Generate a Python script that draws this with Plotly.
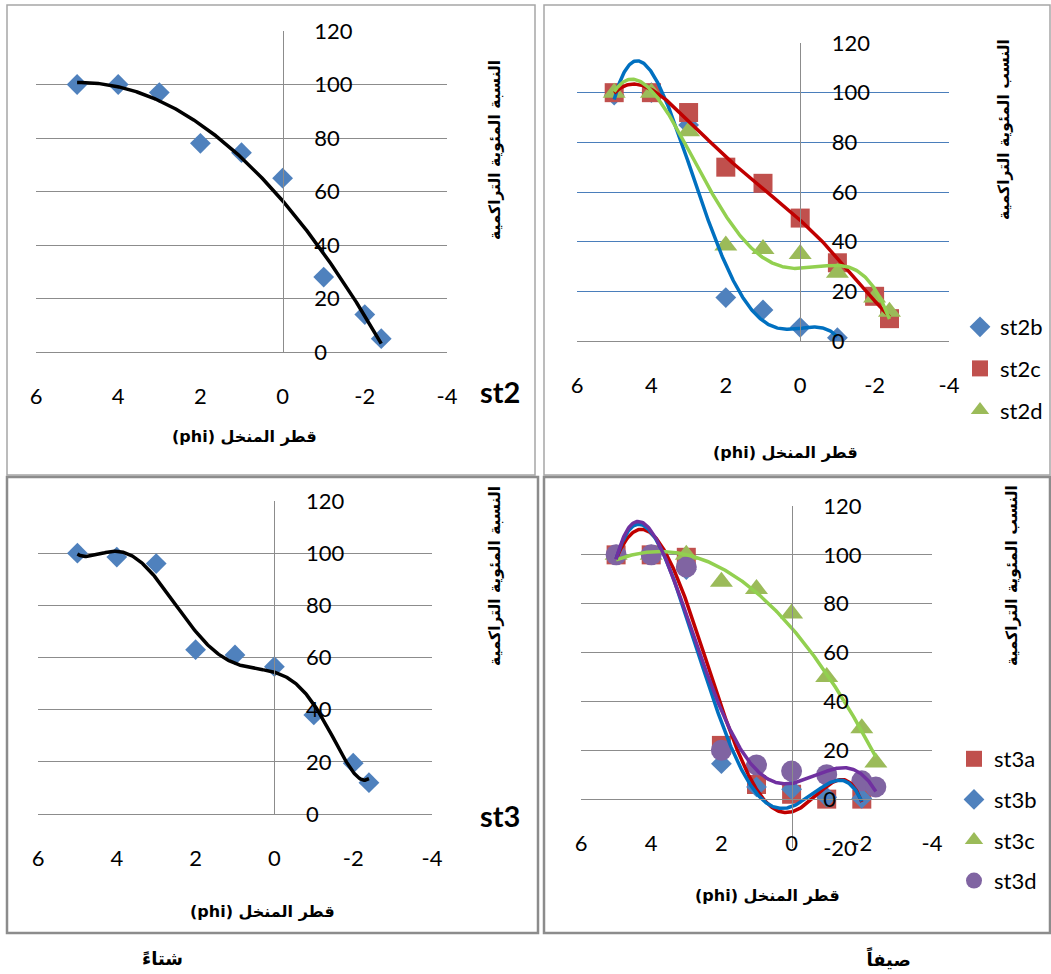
import numpy as np
import plotly.graph_objects as go

W, H = 1051, 974

# sieve diameter in phi units
phi = [5, 4, 3, 2, 1, 0, -1, -2, -2.4]

# cumulative percentage, station 2 (winter)
st2 = [100, 100, 97, 78, 74.5, 65, 28, 14, 5]
# cumulative percentage, station 2 samples (summer)
st2b = [99, 100, 87, 17.5, 12.5, 5.5, 1.3]
st2c = [100, 100, 92, 70, 63.5, 49.5, 31.5, 18, 9]
st2d = [100, 100, 84.5, 38.5, 37, 35, 27.5, 17.5, 11.8]

# cumulative percentage, station 3 (winter)
st3 = [100, 98.5, 96, 63, 61, 56.5, 38, 19.5, 12]
# cumulative percentage, station 3 samples (summer)
st3a = [100, 100, 99, 22, 6, 2, 0, 0]
st3b = [100, 100, 94, 14.5, 5, 4, 0.8, 0.3]
st3c = [100, 100, 100, 89, 86, 76, 50, 29, 15]
st3d = [100, 100, 95, 20, 14, 11.5, 10, 7.5, 5]

x_ticks = [6, 4, 2, 0, -2, -4]
x_tick_text = ["6", "4", "2", "0", "-2", "-4"]
y_ticks = [0, 20, 40, 60, 80, 100, 120]
y_tick_text = ["0", "20", "40", "60", "80", "100", "120"]
y_ticks_neg = [-20, 0, 20, 40, 60, 80, 100, 120]
y_tick_text_neg = ["-20", "0", "20", "40", "60", "80", "100", "120"]

# polynomial trendline orders
ORD = dict(st2=2, st3=6, st2b=4, st2c=6, st2d=4, st3a=5, st3b=5, st3c=2, st3d=5)

BLUE_M, RED_M, GREEN_M, PURPLE_M = "#4F81BD", "#C0504D", "#9BBB59", "#8064A2"
BLUE_L, RED_L, GREEN_L, PURPLE_L = "#0070C0", "#C00000", "#92D050", "#7030A0"
GRID = "#8C8C8C"
GRID_BLUE = "#4A7EBB"
NUM_FONT = "Lato"
AR_FONT = "DejaVu Sans"
NUM_SIZE = 22


def px(x):
    return x / W


def py(y):
    return 1 - y / H


# plot areas in pixels: left, right, top(120), bottom(ymin), ymin
AREAS = {
    1: (36, 447, 31, 352, 0),
    2: (577, 949, 43, 341, 0),
    3: (38, 432, 501, 814, 0),
    4: (581, 932, 506, 848, -20),
}

fig = go.Figure()


def trend(x, y, order):
    c = np.polyfit(x, y, order)
    xs = np.linspace(min(x), max(x), 300)
    return xs, np.polyval(c, xs)


def add_points(k, name, y, symbol, color, size, legend=None):
    x = phi[: len(y)]
    fig.add_trace(go.Scatter(
        x=x, y=y, mode="markers", name=name,
        marker=dict(symbol=symbol, color=color, size=size, line=dict(width=0)),
        xaxis=f"x{k}", yaxis=f"y{k}",
        showlegend=legend is not None, legend=legend or "legend",
        legendgroup=name,
    ))


def add_trend(k, name, y, color, width=3.5):
    x = phi[: len(y)]
    xs, ys = trend(x, y, ORD[name])
    fig.add_trace(go.Scatter(
        x=xs, y=ys, mode="lines", line=dict(color=color, width=width),
        xaxis=f"x{k}", yaxis=f"y{k}", showlegend=False, hoverinfo="skip",
    ))


# panel 1: st2
add_points(1, "st2", st2, "diamond", BLUE_M, 16)
add_trend(1, "st2", st2, "#000000")

# panel 2: st2b, st2c, st2d
add_points(2, "st2b", st2b, "diamond", BLUE_M, 16, "legend")
add_points(2, "st2c", st2c, "square", RED_M, 19, "legend")
add_points(2, "st2d", st2d, "triangle-up", GREEN_M, 20, "legend")
add_trend(2, "st2b", st2b, BLUE_L)
add_trend(2, "st2c", st2c, RED_L)
add_trend(2, "st2d", st2d, GREEN_L)

# panel 3: st3
add_points(3, "st3", st3, "diamond", BLUE_M, 16)
add_trend(3, "st3", st3, "#000000")

# panel 4: st3a, st3b, st3c, st3d
add_points(4, "st3a", st3a, "square", RED_M, 19, "legend2")
add_points(4, "st3b", st3b, "diamond", BLUE_M, 16, "legend2")
add_points(4, "st3c", st3c, "triangle-up", GREEN_M, 20, "legend2")
add_points(4, "st3d", st3d, "circle", PURPLE_M, 21, "legend2")
add_trend(4, "st3a", st3a, RED_L)
add_trend(4, "st3b", st3b, BLUE_L)
add_trend(4, "st3c", st3c, GREEN_L)
add_trend(4, "st3d", st3d, PURPLE_L)

layout = dict(
    width=W, height=H,
    margin=dict(l=0, r=0, t=0, b=0, autoexpand=False),
    paper_bgcolor="white", plot_bgcolor="rgba(0,0,0,0)",
    font=dict(family=NUM_FONT, size=NUM_SIZE, color="#000000"),
)

for k, (x0, x1, yt, yb, ymin) in AREAS.items():
    zero_x = x0 + 0.6 * (x1 - x0)
    zero_y = yt + 120 / (120 - ymin) * (yb - yt)
    gcol = GRID_BLUE if k == 2 else GRID
    sfx = "" if k == 1 else str(k)
    layout[f"xaxis{sfx}"] = dict(
        domain=[px(x0), px(x1)], range=[6, -4],
        tickvals=x_ticks, ticktext=x_tick_text,
        anchor="free", position=py(zero_y), automargin=False,
        showgrid=False, zeroline=False, showline=True, linecolor=GRID, linewidth=1.3,
        ticks="", ticklabelstandoff=24,
        tickfont=dict(family=NUM_FONT, size=NUM_SIZE),
    )
    layout[f"yaxis{sfx}"] = dict(
        domain=[py(yb), py(yt)], range=[ymin, 120],
        tickvals=y_ticks_neg if ymin < 0 else y_ticks,
        ticktext=y_tick_text_neg if ymin < 0 else y_tick_text,
        anchor="free", position=px(zero_x), side="right", automargin=False,
        showgrid=True, gridcolor=gcol, gridwidth=1.3,
        zeroline=False, showline=True, linecolor=GRID, linewidth=1.3,
        ticks="", ticklabelstandoff=26,
        tickfont=dict(family=NUM_FONT, size=NUM_SIZE),
    )

layout["legend"] = dict(
    x=px(960), y=py(306), xanchor="left", yanchor="top",
    bgcolor="rgba(0,0,0,0)", tracegroupgap=10,
    font=dict(family=NUM_FONT, size=NUM_SIZE),
)
layout["legend2"] = dict(
    x=px(954), y=py(738), xanchor="left", yanchor="top",
    bgcolor="rgba(0,0,0,0)", tracegroupgap=9,
    font=dict(family=NUM_FONT, size=NUM_SIZE),
)

# panel frames
frames = [
    (7, 5, 535, 475, 1.5, "#A6A6A6"),
    (544, 5, 1050, 475, 1.5, "#A6A6A6"),
    (7, 477, 538, 933, 2.5, "#8C8C8C"),
    (544, 477, 1050, 933, 2.5, "#8C8C8C"),
]
layout["shapes"] = [
    dict(type="rect", xref="paper", yref="paper",
         x0=px(a), x1=px(c), y0=py(d), y1=py(b),
         line=dict(color=col, width=w), fillcolor="rgba(0,0,0,0)", layer="below")
    for a, b, c, d, w, col in frames
]

X_TITLE = "\u202bقطر المنخل (phi)\u202c"
Y_TITLE_1 = "النسبة المئوية التراكمية"
Y_TITLE_2 = "النسب المئوية التراكمية"


def note(text, x, y, size, angle=0, family=AR_FONT):
    return dict(text=f"<b>{text}</b>", x=px(x), y=py(y), xref="paper", yref="paper",
                showarrow=False, textangle=angle, xanchor="center", yanchor="middle",
                font=dict(family=family, size=size, color="#000000"))


layout["annotations"] = [
    note(X_TITLE, 244, 437, 16),
    note(X_TITLE, 785, 452, 16),
    note(X_TITLE, 262, 911, 16),
    note(X_TITLE, 767, 895, 16),
    note(Y_TITLE_1, 495, 150, 15.5, -90),
    note(Y_TITLE_2, 1004, 130, 15.5, -90),
    note(Y_TITLE_1, 495, 576, 15.5, -90),
    note(Y_TITLE_2, 1012, 576, 15.5, -90),
    note("st2", 500, 392, 29, family=NUM_FONT),
    note("st3", 500, 815, 29, family=NUM_FONT),
    note("شتاءً", 162, 958, 18),
    note("صيفاً", 888, 958, 18),
]

fig.update_layout(**layout)
fig.write_html("out.html")
